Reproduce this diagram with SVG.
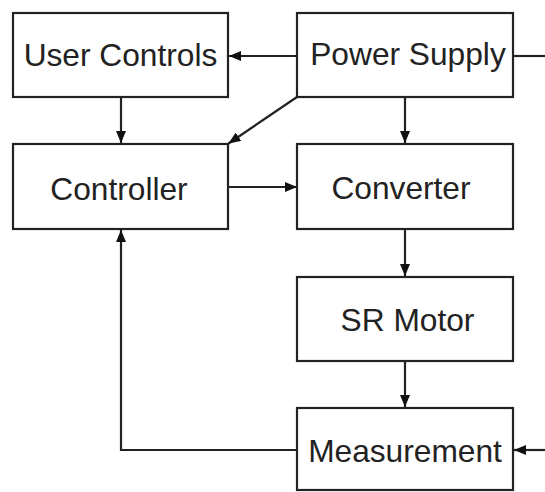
<svg xmlns="http://www.w3.org/2000/svg" width="545" height="492" viewBox="0 0 545 492">
<defs>
<style>
.box{fill:#fff;stroke:#222;stroke-width:2.2}
.lbl{font-family:"Liberation Sans",Arial,sans-serif;font-size:31.7px;fill:#222;text-anchor:middle}
.ln{fill:none;stroke:#222;stroke-width:2.2}
</style>
<marker id="ah" markerUnits="userSpaceOnUse" markerWidth="12" markerHeight="10" viewBox="0 0 12 10" refX="12" refY="5" orient="auto">
<path d="M0,0 L12,5 L0,10 Z" fill="#111"/>
</marker>
</defs>
<g id="connectors">
<line class="ln" x1="297" y1="56" x2="229" y2="56" marker-end="url(#ah)"/>
<line class="ln" x1="513" y1="56" x2="545" y2="56"/>
<line class="ln" x1="297" y1="97" x2="228.5" y2="143.5" marker-end="url(#ah)"/>
<line class="ln" x1="121" y1="97" x2="121" y2="143" marker-end="url(#ah)"/>
<line class="ln" x1="405" y1="97" x2="405" y2="143" marker-end="url(#ah)"/>
<line class="ln" x1="228" y1="187" x2="297" y2="187" marker-end="url(#ah)"/>
<line class="ln" x1="405" y1="229" x2="405" y2="276" marker-end="url(#ah)"/>
<line class="ln" x1="405" y1="361" x2="405" y2="407" marker-end="url(#ah)"/>
<polyline class="ln" points="297,450 121,450 121,230" marker-end="url(#ah)"/>
<line class="ln" x1="545" y1="450" x2="514" y2="450" marker-end="url(#ah)"/>
</g>
<g id="user-controls">
<rect class="box" x="13" y="13" width="215" height="84"/>
<text class="lbl" x="120.5" y="66">User Controls</text>
</g>
<g id="power-supply">
<rect class="box" x="297" y="13" width="216" height="84"/>
<text class="lbl" x="408" y="65">Power Supply</text>
</g>
<g id="controller">
<rect class="box" x="13" y="144" width="215" height="85"/>
<text class="lbl" x="119" y="200">Controller</text>
</g>
<g id="converter">
<rect class="box" x="297" y="144" width="216" height="85"/>
<text class="lbl" x="401" y="199">Converter</text>
</g>
<g id="sr-motor">
<rect class="box" x="297" y="277" width="216" height="84"/>
<text class="lbl" x="407.5" y="331">SR Motor</text>
</g>
<g id="measurement">
<rect class="box" x="297" y="408" width="216" height="82"/>
<text class="lbl" x="405" y="462">Measurement</text>
</g>
</svg>
